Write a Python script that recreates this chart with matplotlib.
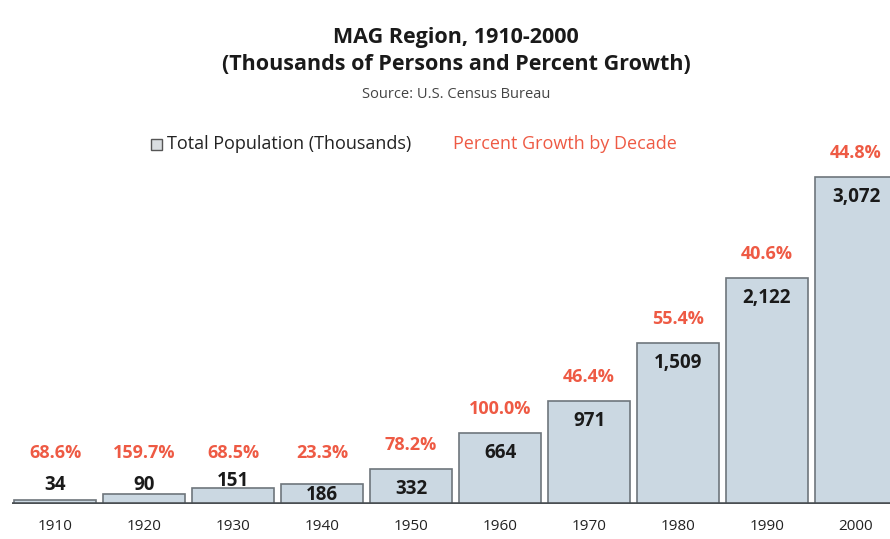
import matplotlib.pyplot as plt
from matplotlib.patches import Rectangle
import numpy as np

plt.rcParams['font.family'] = ['Open Sans', 'DejaVu Sans']

# MAG region population (thousands) and decade growth
years = ['1910', '1920', '1930', '1940', '1950', '1960', '1970', '1980', '1990', '2000']
population = [34, 90, 151, 186, 332, 664, 971, 1509, 2122, 3072]
growth = [68.6, 159.7, 68.5, 23.3, 78.2, 100.0, 46.4, 55.4, 40.6, 44.8]

bar_fill = '#cbd8e2'
bar_edge = '#6e767c'
red = '#ee5a44'

fig = plt.figure(figsize=(8.9, 5.39), dpi=100)
ax = fig.add_axes([0, 35 / 539, 1, 504 / 539])
x = np.arange(len(years))

ax.bar(x, population, width=0.92, color=bar_fill, edgecolor=bar_edge, linewidth=1.2, zorder=2)
ax.plot([-0.48, 9.5], [0, 0], color='#4a4f53', lw=2.6, zorder=3, solid_capstyle='butt')

ax.set_xlim(-0.618, 9.382)
ax.set_ylim(0, 4732)
ax.axis('off')

# thousands per pixel, for placing labels relative to bar tops
tpp = 4732 / 504

for i, (v, g) in enumerate(zip(population, growth)):
    # value label: inside the bar when it is tall enough, otherwise above it
    if v >= 300:
        vy = v - 20 * tpp
    elif v > 160:
        vy = 9 * tpp
    else:
        vy = max(v + 7 * tpp, 19 * tpp)
    ax.text(i, vy, f'{v:,}', ha='center', va='center', fontsize=13.5,
            fontweight='bold', color='#1a1a1a', zorder=4)
    gy = max(v + 24 * tpp, 51 * tpp)
    ax.text(i, gy, f'{g:.1f}%', ha='center', va='center', fontsize=13,
            fontweight='bold', color=red, zorder=4)
    fig.text((55 + 89 * i) / 890, 1 - 527 / 539, years[i], ha='center', va='center',
             fontsize=11, color='#222222')

cx = 456 / 890
fig.text(cx, 1 - 37 / 539, 'MAG Region, 1910-2000', ha='center', va='center',
         fontsize=15.5, fontweight='bold', color='#1a1a1a')
fig.text(cx, 1 - 64 / 539, '(Thousands of Persons and Percent Growth)', ha='center',
         va='center', fontsize=15.5, fontweight='bold', color='#1a1a1a')
fig.text(cx, 1 - 95 / 539, 'Source: U.S. Census Bureau', ha='center', va='center',
         fontsize=10.5, color='#444444')

# legend row
fig.patches.append(Rectangle((151 / 890, 1 - 150 / 539), 11 / 890, 11 / 539,
                             transform=fig.transFigure, facecolor='#d9dde0',
                             edgecolor='#555555', linewidth=1))
fig.text(167 / 890, 1 - 144 / 539, 'Total Population (Thousands)', ha='left', va='center',
         fontsize=13, color='#222222')
fig.text(453 / 890, 1 - 144 / 539, 'Percent Growth by Decade', ha='left', va='center',
         fontsize=13, color=red)

fig.savefig('out.png', dpi=100, facecolor='white')
